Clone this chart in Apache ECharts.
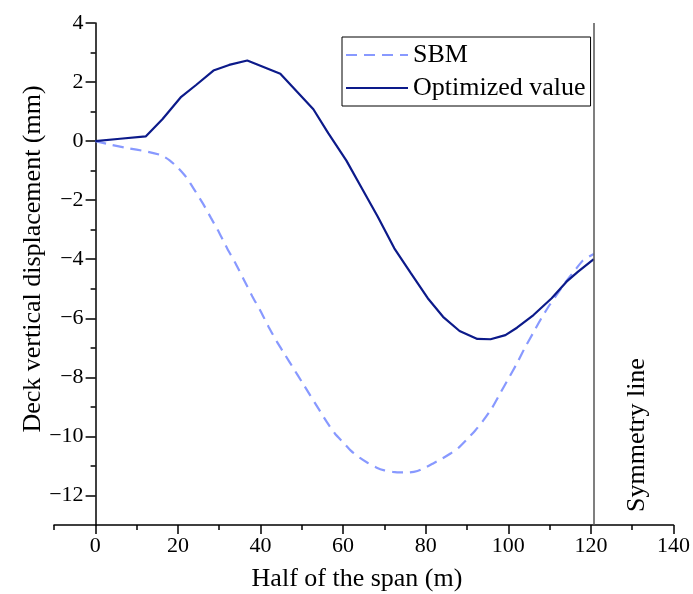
<!DOCTYPE html>
<html>
<head>
<meta charset="utf-8">
<script src="https://cdn.jsdelivr.net/npm/echarts@6/dist/echarts.min.js"></script>
<style>html,body{margin:0;padding:0;background:#fff;}#c{width:693px;height:594px;}</style>
</head>
<body>
<div id="c"></div>
<script>
// ---- data ----
const sbmSpan = [0, 4, 8, 12, 16, 18, 20, 22, 24, 26, 28, 30, 32, 34, 36, 38, 40, 42, 44, 46, 48, 50, 52, 54, 56, 58, 60, 62, 64, 66, 68, 70, 72, 74, 76, 78, 80, 82, 84, 86, 88, 90, 92, 94, 96, 98, 100, 102, 104, 106, 108, 110, 112, 114, 116, 118, 120.7];
const sbmDisp = [0, -0.13, -0.24, -0.34, -0.48, -0.65, -0.9, -1.22, -1.65, -2.1, -2.6, -3.1, -3.65, -4.15, -4.7, -5.25, -5.75, -6.3, -6.8, -7.25, -7.7, -8.15, -8.6, -9.05, -9.5, -9.9, -10.2, -10.5, -10.72, -10.9, -11.05, -11.15, -11.2, -11.22, -11.22, -11.17, -11.05, -10.9, -10.75, -10.58, -10.38, -10.1, -9.8, -9.45, -9.05, -8.55, -8.05, -7.55, -7.0, -6.5, -6.0, -5.55, -5.15, -4.75, -4.4, -4.05, -3.82];
const optSpan = [0, 6, 12.2, 16.3, 20.8, 24.4, 28.6, 32.4, 36.8, 44.8, 52.8, 56.4, 60.8, 64.4, 68.4, 72.4, 76.4, 80.5, 84.2, 88.2, 92.5, 95.7, 99.3, 102.1, 106.1, 110.5, 114.1, 116.9, 120.7];
const optDisp = [0, 0.08, 0.16, 0.75, 1.5, 1.9, 2.39, 2.58, 2.73, 2.28, 1.08, 0.27, -0.66, -1.56, -2.56, -3.63, -4.47, -5.32, -5.95, -6.43, -6.70, -6.71, -6.57, -6.32, -5.89, -5.32, -4.76, -4.42, -4.0];
const symmetryX = 120.7;
const seriesNames = ['SBM', 'Optimized value'];
const xTicks = [0, 20, 40, 60, 80, 100, 120, 140];
const xMinorTicks = [-10, 10, 30, 50, 70, 90, 110, 130];
const yTicks = [-12, -10, -8, -6, -4, -2, 0, 2, 4];
const yMinorTicks = [-11, -9, -7, -5, -3, -1, 1, 3];
const xTitle = 'Half of the span (m)';
const yTitle = 'Deck vertical displacement (mm)';
const symLabel = 'Symmetry line';

const FONT = '"Liberation Serif", "Times New Roman", serif';
const zip = (a, b) => a.map((v, i) => [v, b[i]]);
const fmt = v => (v < 0 ? '\u2212' + (-v) : String(v));
const axisStroke = { color: '#000', width: 1.5 };
const X_MIN = -10, X_MAX = 140, Y_MIN = -13, Y_MAX = 4;
const GRID = { left: 54, right: 15, top: 23, bottom: 69 };
// place the y axis at x = 0 (inside the grid)
const plotW = 693 - GRID.left - GRID.right;
const yAxisOffset = -plotW * (0 - X_MIN) / (X_MAX - X_MIN);

const chart = echarts.init(document.getElementById('c'), null, { renderer: 'canvas' });
chart.setOption({
  animation: false,
  backgroundColor: '#fff',
  grid: Object.assign({ containLabel: false }, GRID),
  xAxis: [
    {
      type: 'value', min: X_MIN, max: X_MAX, position: 'bottom',
      axisLine: { show: true, onZero: false, lineStyle: axisStroke },
      axisTick: { show: true, customValues: xTicks, length: 9, lineStyle: axisStroke },
      axisLabel: { customValues: xTicks, margin: 10, fontSize: 22, color: '#000', fontFamily: FONT, formatter: fmt },
      splitLine: { show: false }
    },
    {
      type: 'value', min: X_MIN, max: X_MAX, position: 'bottom',
      axisLine: { show: false, onZero: false },
      axisTick: { show: true, customValues: xMinorTicks, length: 5, lineStyle: axisStroke },
      axisLabel: { show: false },
      splitLine: { show: false }
    }
  ],
  yAxis: [
    {
      type: 'value', min: Y_MIN, max: Y_MAX, position: 'left', offset: yAxisOffset,
      axisLine: { show: true, onZero: false, lineStyle: axisStroke },
      axisTick: { show: true, customValues: yTicks, length: 10, lineStyle: axisStroke },
      axisLabel: { customValues: yTicks, margin: 12, fontSize: 22, color: '#000', fontFamily: FONT, formatter: fmt },
      splitLine: { show: false }
    },
    {
      type: 'value', min: Y_MIN, max: Y_MAX, position: 'left', offset: yAxisOffset,
      axisLine: { show: false, onZero: false },
      axisTick: { show: true, customValues: yMinorTicks, length: 5, lineStyle: axisStroke },
      axisLabel: { show: false },
      splitLine: { show: false }
    }
  ],
  legend: {
    orient: 'vertical', left: 342, top: 37,
    padding: [3, 5, 3, 3], itemGap: 3, itemWidth: 62, itemHeight: 14,
    borderColor: '#000', borderWidth: 1, backgroundColor: '#fff',
    itemStyle: { opacity: 0 },
    textStyle: { fontSize: 26, fontFamily: FONT, color: '#000', lineHeight: 30 },
    data: seriesNames
  },
  series: [
    {
      name: seriesNames[0], type: 'line', xAxisIndex: 0, yAxisIndex: 0,
      data: zip(sbmSpan, sbmDisp), symbol: 'none', smooth: 0.2,
      lineStyle: { color: '#8899ff', width: 2.2, type: [11, 7] },
      itemStyle: { color: '#8899ff' },
      markLine: {
        silent: true, symbol: 'none', animation: false,
        lineStyle: { color: '#555', width: 1.5, type: 'solid' },
        label: { show: false },
        data: [{ xAxis: symmetryX }]
      }
    },
    {
      name: seriesNames[1], type: 'line', xAxisIndex: 0, yAxisIndex: 0,
      data: zip(optSpan, optDisp), symbol: 'none',
      lineStyle: { color: '#0c1a8a', width: 2.2 },
      itemStyle: { color: '#0c1a8a' }
    }
  ],
  graphic: [
    { type: 'text', x: 357, y: 579, style: { text: xTitle, fontSize: 26, fontFamily: FONT, fill: '#000', align: 'center', verticalAlign: 'middle' } },
    { type: 'text', x: 33, y: 259, rotation: Math.PI / 2, style: { text: yTitle, fontSize: 26, fontFamily: FONT, fill: '#000', align: 'center', verticalAlign: 'middle' } },
    { type: 'text', x: 637, y: 435, rotation: Math.PI / 2, style: { text: symLabel, fontSize: 26, fontFamily: FONT, fill: '#000', align: 'center', verticalAlign: 'middle' } }
  ]
});
</script>
</body>
</html>
